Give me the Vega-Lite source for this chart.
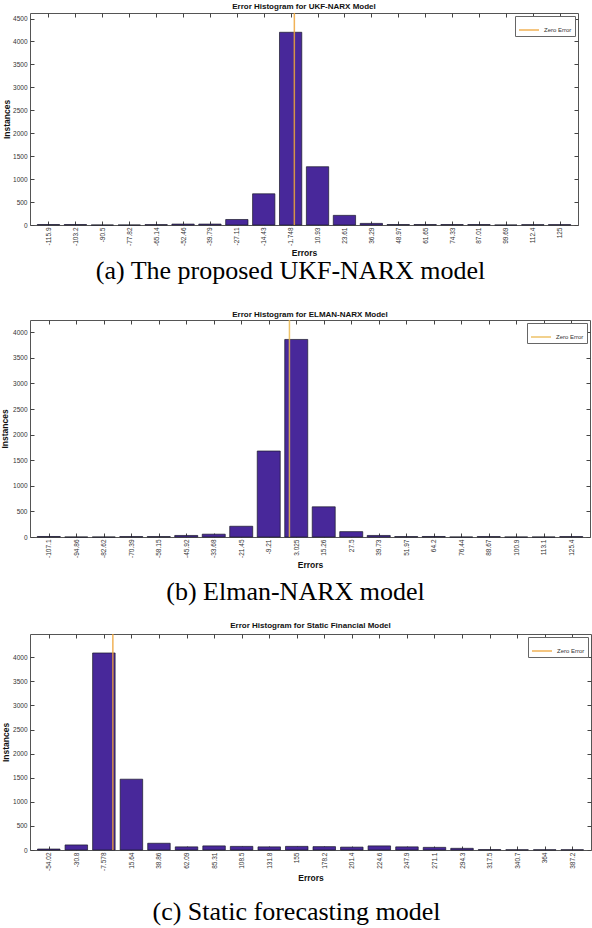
{
  "$schema": "https://vega.github.io/schema/vega-lite/v6.json",
  "padding": {"left": 0, "top": 2, "right": 0, "bottom": 0},
  "background": "white",
  "columns": 1,
  "align": "none",
  "center": true,
  "spacing": 15,
  "resolve": {"scale": {"color": "independent"}, "legend": {"color": "independent"}},
  "config": {
    "view": {"stroke": "#555", "strokeWidth": 1},
    "font": "Liberation Sans",
    "axis": {"labelFont": "Liberation Sans", "labelFontSize": 6.5, "labelColor": "#333", "tickColor": "#444", "tickSize": -4, "domain": false, "grid": false, "labelOverlap": false, "labelFlush": false, "titleFont": "Liberation Sans", "titleFontSize": 8.5, "titleFontWeight": "bold", "titleColor": "#111"},
    "legend": {"orient": "top-right", "title": null, "symbolType": "stroke", "symbolSize": 400, "symbolStrokeWidth": 1.5, "labelFont": "Liberation Sans", "labelFontSize": 6, "labelColor": "#333", "strokeColor": "#666", "fillColor": "white", "padding": 3, "offset": 3}
  },
  "concat": [
    {
      "title": {"text": "(a) The proposed UKF-NARX model", "subtitle": " ", "subtitleFontSize": 6, "subtitlePadding": 4, "orient": "bottom", "anchor": "middle", "frame": "bounds", "font": "Liberation Serif", "fontSize": 26, "fontWeight": "normal", "color": "#000", "offset": 1},
      "resolve": {"scale": {"color": "independent"}, "legend": {"color": "independent"}},
      "vconcat": [
        {
          "title": {"text": "Error Histogram for UKF-NARX Model", "anchor": "middle", "frame": "group", "font": "Liberation Sans", "fontSize": 8, "fontWeight": "bold", "color": "#111", "offset": 1},
          "width": 548,
          "height": 212,
          "data": {"values": [
            {"center": -115.9, "count": 10}, {"center": -103.2, "count": 10}, {"center": -90.5, "count": 0}, {"center": -77.82, "count": 0},
            {"center": -65.14, "count": 8}, {"center": -52.46, "count": 20}, {"center": -39.79, "count": 20}, {"center": -27.11, "count": 120},
            {"center": -14.43, "count": 680}, {"center": -1.748, "count": 4200}, {"center": 10.93, "count": 1270}, {"center": 23.61, "count": 210},
            {"center": 36.29, "count": 35}, {"center": 48.97, "count": 10}, {"center": 61.65, "count": 10}, {"center": 74.33, "count": 10},
            {"center": 87.01, "count": 10}, {"center": 99.69, "count": 0}, {"center": 112.4, "count": 8}, {"center": 125, "count": 8}
          ]},
          "resolve": {"axis": {"x": "independent", "y": "independent"}},
          "layer": [
            {
              "mark": {"type": "bar", "size": 22.3, "color": "#48289A", "stroke": "#1a1a2a", "strokeWidth": 0.7},
              "encoding": {
                "x": {"field": "center", "type": "quantitative", "scale": {"domain": [-122.24, 131.34], "nice": false, "zero": false},
                      "axis": {"orient": "bottom", "values": [-115.9, -103.2, -90.5, -77.82, -65.14, -52.46, -39.79, -27.11, -14.43, -1.748, 10.93, 23.61, 36.29, 48.97, 61.65, 74.33, 87.01, 99.69, 112.4, 125],
                               "labelExpr": "'' + datum.value", "labelAngle": 270, "labelAlign": "right", "labelBaseline": "middle", "labelPadding": 6, "title": "Errors", "titlePadding": 3}},
                "y": {"field": "count", "type": "quantitative", "scale": {"domain": [0, 4620], "nice": false},
                      "axis": {"orient": "left", "values": [0, 500, 1000, 1500, 2000, 2500, 3000, 3500, 4000, 4500], "labelExpr": "'' + datum.value", "labelPadding": 7, "title": "Instances", "titlePadding": 1}}
              }
            },
            {
              "mark": {"type": "bar", "size": 22.3, "opacity": 0},
              "encoding": {
                "x": {"field": "center", "type": "quantitative", "axis": {"orient": "top", "values": [-115.9, -103.2, -90.5, -77.82, -65.14, -52.46, -39.79, -27.11, -14.43, -1.748, 10.93, 23.61, 36.29, 48.97, 61.65, 74.33, 87.01, 99.69, 112.4, 125], "labels": false, "title": null}},
                "y": {"field": "count", "type": "quantitative", "axis": {"orient": "right", "values": [0, 500, 1000, 1500, 2000, 2500, 3000, 3500, 4000, 4500], "labels": false, "title": null}}
              }
            },
            {
              "data": {"values": [{"zero": 0, "name": "Zero Error"}]},
              "mark": {"type": "rule", "strokeWidth": 1.5, "opacity": 0.85},
              "encoding": {
                "x": {"field": "zero", "type": "quantitative", "axis": null},
                "color": {"field": "name", "type": "nominal", "scale": {"range": ["#EFA43A"]}}
              }
            }
          ]
        }
      ]
    },
    {
      "title": {"text": "(b) Elman-NARX model", "orient": "bottom", "anchor": "middle", "frame": "bounds", "font": "Liberation Serif", "fontSize": 26, "fontWeight": "normal", "color": "#000", "offset": 10},
      "resolve": {"scale": {"color": "independent"}, "legend": {"color": "independent"}},
      "vconcat": [
        {
          "title": {"text": "Error Histogram for ELMAN-NARX Model", "anchor": "middle", "frame": "group", "font": "Liberation Sans", "fontSize": 8, "fontWeight": "bold", "color": "#111", "offset": 0},
          "width": 560,
          "height": 217,
          "data": {"values": [
            {"center": -107.1, "count": 10}, {"center": -94.86, "count": 0}, {"center": -82.62, "count": 0}, {"center": -70.39, "count": 8},
            {"center": -58.15, "count": 8}, {"center": -45.92, "count": 30}, {"center": -33.68, "count": 55}, {"center": -21.45, "count": 210},
            {"center": -9.21, "count": 1680}, {"center": 3.025, "count": 3860}, {"center": 15.26, "count": 590}, {"center": 27.5, "count": 105},
            {"center": 39.73, "count": 30}, {"center": 51.97, "count": 8}, {"center": 64.2, "count": 10}, {"center": 76.44, "count": 0},
            {"center": 88.67, "count": 8}, {"center": 100.9, "count": 0}, {"center": 113.1, "count": 0}, {"center": 125.4, "count": 8}
          ]},
          "resolve": {"axis": {"x": "independent", "y": "independent"}},
          "layer": [
            {
              "mark": {"type": "bar", "size": 23, "color": "#48289A", "stroke": "#1a1a2a", "strokeWidth": 0.7},
              "encoding": {
                "x": {"field": "center", "type": "quantitative", "scale": {"domain": [-113.22, 131.52], "nice": false, "zero": false},
                      "axis": {"orient": "bottom", "values": [-107.1, -94.86, -82.62, -70.39, -58.15, -45.92, -33.68, -21.45, -9.21, 3.025, 15.26, 27.5, 39.73, 51.97, 64.2, 76.44, 88.67, 100.9, 113.1, 125.4],
                               "labelExpr": "'' + datum.value", "labelAngle": 270, "labelAlign": "right", "labelBaseline": "middle", "labelPadding": 6, "title": "Errors", "titlePadding": 3}},
                "y": {"field": "count", "type": "quantitative", "scale": {"domain": [0, 4240], "nice": false},
                      "axis": {"orient": "left", "values": [0, 500, 1000, 1500, 2000, 2500, 3000, 3500, 4000], "labelExpr": "'' + datum.value", "labelPadding": 7, "title": "Instances", "titlePadding": 3}}
              }
            },
            {
              "mark": {"type": "bar", "size": 23, "opacity": 0},
              "encoding": {
                "x": {"field": "center", "type": "quantitative", "axis": {"orient": "top", "values": [-107.1, -94.86, -82.62, -70.39, -58.15, -45.92, -33.68, -21.45, -9.21, 3.025, 15.26, 27.5, 39.73, 51.97, 64.2, 76.44, 88.67, 100.9, 113.1, 125.4], "labels": false, "title": null}},
                "y": {"field": "count", "type": "quantitative", "axis": {"orient": "right", "values": [0, 500, 1000, 1500, 2000, 2500, 3000, 3500, 4000], "labels": false, "title": null}}
              }
            },
            {
              "data": {"values": [{"zero": 0, "name": "Zero Error"}]},
              "mark": {"type": "rule", "strokeWidth": 1.5, "opacity": 0.85},
              "encoding": {
                "x": {"field": "zero", "type": "quantitative", "axis": null},
                "color": {"field": "name", "type": "nominal", "scale": {"range": ["#EBB94E"]}}
              }
            }
          ]
        }
      ]
    },
    {
      "title": {"text": "(c) Static forecasting model", "orient": "bottom", "anchor": "middle", "frame": "bounds", "font": "Liberation Serif", "fontSize": 26, "fontWeight": "normal", "color": "#000", "offset": 17},
      "resolve": {"scale": {"color": "independent"}, "legend": {"color": "independent"}},
      "vconcat": [
        {
          "title": {"text": "Error Histogram for Static Financial Model", "anchor": "middle", "frame": "group", "font": "Liberation Sans", "fontSize": 8, "fontWeight": "bold", "color": "#111", "offset": 3},
          "width": 561,
          "height": 216,
          "data": {"values": [
            {"center": -54.02, "count": 20}, {"center": -30.8, "count": 105}, {"center": -7.578, "count": 4090}, {"center": 15.64, "count": 1470},
            {"center": 38.86, "count": 140}, {"center": 62.09, "count": 65}, {"center": 85.31, "count": 85}, {"center": 108.5, "count": 75},
            {"center": 131.8, "count": 65}, {"center": 155, "count": 75}, {"center": 178.2, "count": 70}, {"center": 201.4, "count": 60},
            {"center": 224.6, "count": 85}, {"center": 247.9, "count": 65}, {"center": 271.1, "count": 55}, {"center": 294.3, "count": 35},
            {"center": 317.5, "count": 8}, {"center": 340.7, "count": 5}, {"center": 364, "count": 5}, {"center": 387.2, "count": 5}
          ]},
          "resolve": {"axis": {"x": "independent", "y": "independent"}},
          "layer": [
            {
              "mark": {"type": "bar", "size": 22.5, "color": "#48289A", "stroke": "#1a1a2a", "strokeWidth": 0.7},
              "encoding": {
                "x": {"field": "center", "type": "quantitative", "scale": {"domain": [-65.63, 398.81], "nice": false, "zero": false},
                      "axis": {"orient": "bottom", "values": [-54.02, -30.8, -7.578, 15.64, 38.86, 62.09, 85.31, 108.5, 131.8, 155, 178.2, 201.4, 224.6, 247.9, 271.1, 294.3, 317.5, 340.7, 364, 387.2],
                               "labelExpr": "'' + datum.value", "labelAngle": 270, "labelAlign": "right", "labelBaseline": "middle", "labelPadding": 6, "title": "Errors", "titlePadding": 3}},
                "y": {"field": "count", "type": "quantitative", "scale": {"domain": [0, 4484], "nice": false},
                      "axis": {"orient": "left", "values": [0, 500, 1000, 1500, 2000, 2500, 3000, 3500, 4000], "labelExpr": "'' + datum.value", "labelPadding": 7, "title": "Instances", "titlePadding": 2}}
              }
            },
            {
              "mark": {"type": "bar", "size": 22.5, "opacity": 0},
              "encoding": {
                "x": {"field": "center", "type": "quantitative", "axis": {"orient": "top", "values": [-54.02, -30.8, -7.578, 15.64, 38.86, 62.09, 85.31, 108.5, 131.8, 155, 178.2, 201.4, 224.6, 247.9, 271.1, 294.3, 317.5, 340.7, 364, 387.2], "labels": false, "title": null}},
                "y": {"field": "count", "type": "quantitative", "axis": {"orient": "right", "values": [0, 500, 1000, 1500, 2000, 2500, 3000, 3500, 4000], "labels": false, "title": null}}
              }
            },
            {
              "data": {"values": [{"zero": 0, "name": "Zero Error"}]},
              "mark": {"type": "rule", "strokeWidth": 1.5, "opacity": 0.85},
              "encoding": {
                "x": {"field": "zero", "type": "quantitative", "axis": null},
                "color": {"field": "name", "type": "nominal", "scale": {"range": ["#EFA43A"]}}
              }
            }
          ]
        }
      ]
    }
  ]
}
